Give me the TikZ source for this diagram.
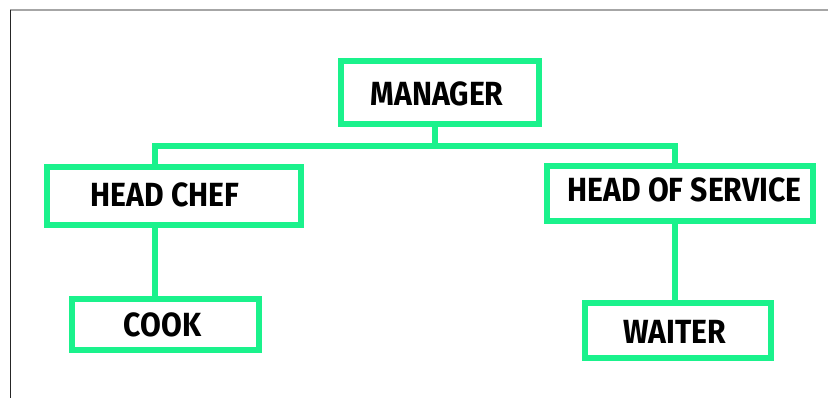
\documentclass[tikz,border=0pt]{standalone}
\usepackage{fontspec}
\setmainfont{Fira Sans}[FakeStretch=0.9]
\definecolor{boxgreen}{RGB}{26,242,140}
\tikzset{
  orgbox/.style={draw=boxgreen, line width=6.5pt, rectangle, inner sep=0pt},
  lbl/.style={font=\fontsize{33.5}{36}\selectfont\bfseries, text=black, inner sep=0pt},
  link/.style={draw=boxgreen, line width=6.5pt, line cap=butt}
}
\begin{document}
\begin{tikzpicture}[x=1pt,y=-1pt]
\useasboundingbox (0,0) rectangle (828,398);
% page frame lines
\draw[gray!70, line width=1.2pt] (10,10) -- (828,10);
\draw[black!85, line width=1.2pt] (10.5,10) -- (10.5,398);
% boxes
\node[orgbox, minimum width=198pt, minimum height=63pt] (mgr) at (440,92.5) {};
\node[orgbox, minimum width=254pt, minimum height=58pt] (chef) at (174,196) {};
\node[orgbox, minimum width=266pt, minimum height=55pt] (serv) at (680,193.5) {};
\node[orgbox, minimum width=187pt, minimum height=51pt] (cook) at (165.5,324.5) {};
\node[orgbox, minimum width=186pt, minimum height=55pt] (waiter) at (678,330.5) {};
% labels
\node[lbl] (tmgr) at (437,93.5) {MANAGER};
\node[lbl] (tchef) at (165,195) {HEAD CHEF};
\node[lbl] (tserv) at (684.5,190) {HEAD OF SERVICE};
\node[lbl] (tcook) at (162.5,325) {COOK};
\node[lbl] (twaiter) at (674.5,331.5) {WAITER};
% connector points
\coordinate (bus) at (435,146);
\coordinate (jl) at (155,146);
\coordinate (jr) at (675,146);
% connectors
\draw[link] (bus |- mgr.south) -- (bus);
\draw[link] (jl |- chef.north) -- (jl) -- (jr) -- (jr |- serv.north);
\draw[link] (jl |- chef.south) -- (jl |- cook.north);
\draw[link] (jr |- serv.south) -- (jr |- waiter.north);
\end{tikzpicture}
\end{document}
